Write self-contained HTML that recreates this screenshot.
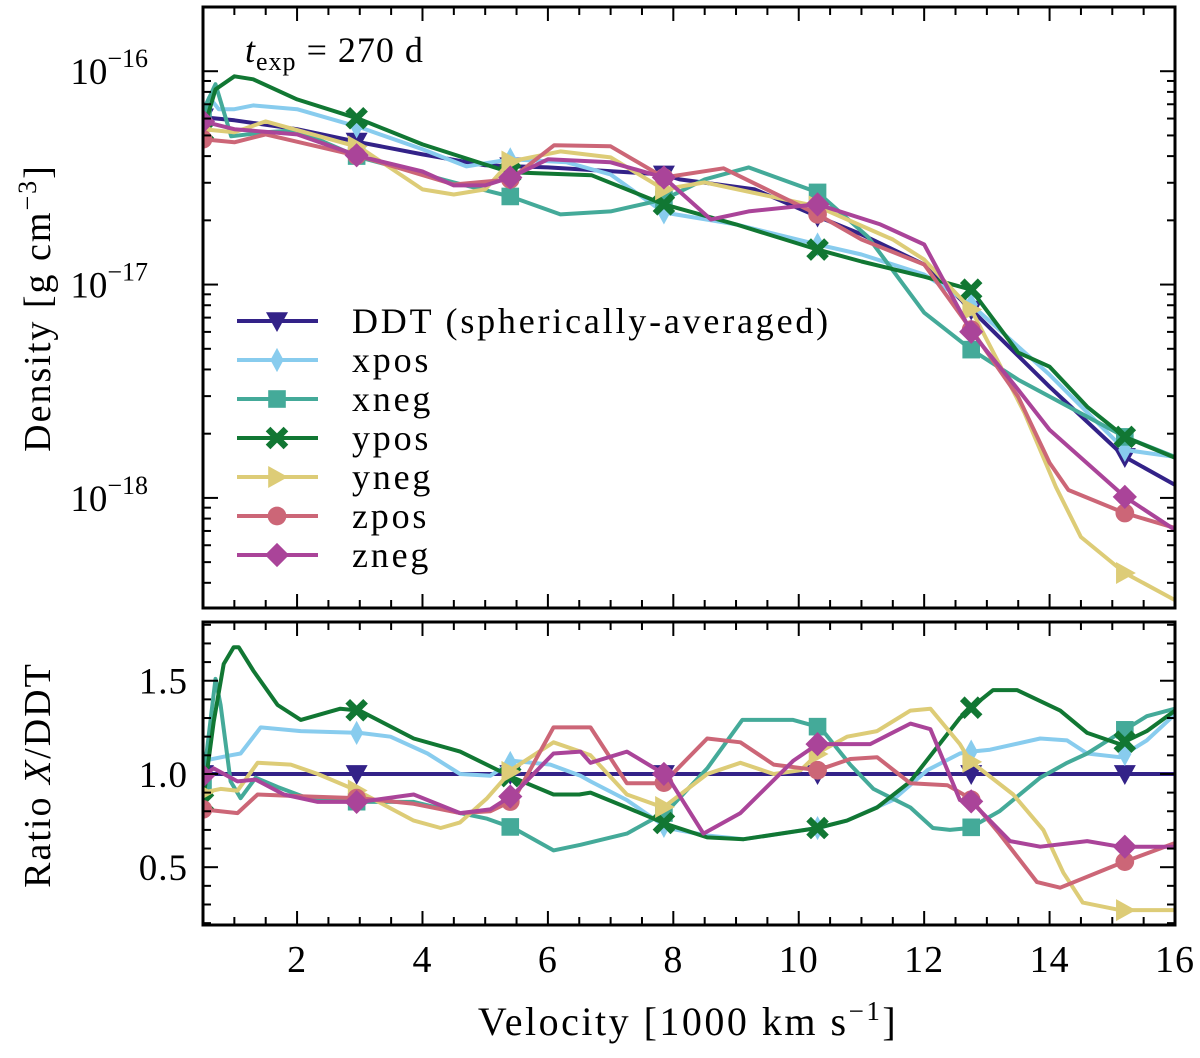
<!DOCTYPE html>
<html><head><meta charset="utf-8">
<style>
html,body{margin:0;padding:0;background:#fff;}
svg{display:block;font-family:"Liberation Serif",serif;}
</style></head>
<body>
<svg id="chart" width="1200" height="1058" viewBox="0 0 1200 1058" xmlns="http://www.w3.org/2000/svg">
<defs>
<clipPath id="clipTop"><rect x="203" y="7" width="972" height="601"/></clipPath>
<clipPath id="clipBot"><rect x="203" y="622" width="972" height="303"/></clipPath>
</defs>
<g id="topSeries" clip-path="url(#clipTop)"></g>
<g id="botSeries" clip-path="url(#clipBot)"></g>
<g id="axes"></g>
<text x="245" y="62" font-size="36" letter-spacing="1"><tspan font-style="italic">t</tspan><tspan font-size="26" dy="8">exp</tspan><tspan dy="-8"> = 270 d</tspan></text>
<text transform="translate(50,308) rotate(-90)" text-anchor="middle" font-size="38" letter-spacing="2">Density [g cm<tspan font-size="26" dy="-14">−3</tspan><tspan dy="14">]</tspan></text>
<text transform="translate(50,775) rotate(-90)" text-anchor="middle" font-size="38" letter-spacing="2">Ratio <tspan font-style="italic">X</tspan>/DDT</text>
<text x="688" y="1035" text-anchor="middle" font-size="40" letter-spacing="2.5">Velocity [1000 km s<tspan font-size="27" dy="-15">−1</tspan><tspan dy="15">]</tspan></text>
<g id="legend"></g>
</svg>
<script>
const names = ["DDT (spherically-averaged)","xpos","xneg","ypos","yneg","zpos","zneg"];
const colors = ["#332288","#88CCEE","#44AA99","#117733","#DDCC77","#CC6677","#AA4499"];
const markerVel = [0.5,2.95,5.4,7.85,10.3,12.75,15.2];
const xTicks = [2,4,6,8,10,12,14,16];
const ratioTicks = [0.5,1.0,1.5];
const densityDecades = [-16,-17,-18];

// Top panel: velocity (1000 km/s) and log10 density (g/cm^3)
const ddtV = [0.5,1,2,3,4,5,6,7.85,8.1,9.3,10.3,11,12,12.75,14,15.2,16];
const ddtL = [-16.216,-16.230,-16.272,-16.333,-16.390,-16.441,-16.451,-16.484,-16.507,-16.554,-16.681,-16.765,-16.906,-17.117,-17.479,-17.808,-17.939];
const xposV = [0.5,0.6,0.75,1,1.3,2,3,4,4.7,5.4,6.3,7,7.85,9,10.3,11,12,12.75,14,15.2,16];
const xposL = [-16.188,-16.122,-16.178,-16.178,-16.160,-16.178,-16.263,-16.366,-16.446,-16.413,-16.427,-16.484,-16.662,-16.718,-16.812,-16.859,-16.953,-17.094,-17.423,-17.775,-17.808];
const xnegV = [0.5,0.7,0.95,1.5,2,3,4.5,5.4,6.2,7,7.85,8.5,9.2,10.3,11.1,12,12.75,13.5,15.2,16];
const xnegL = [-16.188,-16.061,-16.305,-16.286,-16.277,-16.404,-16.521,-16.587,-16.671,-16.657,-16.601,-16.507,-16.451,-16.568,-16.775,-17.132,-17.305,-17.446,-17.714,-17.808];
const yposV = [0.5,0.7,1,1.3,2,3,4,5,5.4,6.7,7.85,9,10.3,11,12,12.75,13.5,14,14.6,15.2,16];
const yposL = [-16.282,-16.085,-16.024,-16.038,-16.132,-16.225,-16.343,-16.437,-16.474,-16.488,-16.624,-16.718,-16.836,-16.892,-16.963,-17.024,-17.319,-17.385,-17.573,-17.714,-17.812];
const ynegV = [0.5,1,1.5,3,4,4.5,5,5.4,6.2,7,7.85,8.5,10.3,11.5,12,12.75,13.6,14.1,14.5,15.2,16];
const ynegL = [-16.272,-16.286,-16.235,-16.357,-16.554,-16.578,-16.554,-16.423,-16.376,-16.404,-16.554,-16.521,-16.634,-16.789,-16.883,-17.117,-17.601,-17.949,-18.183,-18.352,-18.479];
const zposV = [0.5,1,1.5,3,4.5,5.4,6.1,7,7.85,8.8,10.3,11,12,12.75,13.5,14,14.3,15.2,16];
const zposL = [-16.319,-16.333,-16.296,-16.399,-16.531,-16.507,-16.347,-16.352,-16.498,-16.455,-16.671,-16.789,-16.906,-17.211,-17.526,-17.836,-17.963,-18.071,-18.141];
const znegV = [0.5,1,2,3,4,4.5,5,5.4,6,7,7.85,8.6,9.2,10.3,11.3,12,12.75,13.5,14,15.2,16];
const znegL = [-16.235,-16.272,-16.296,-16.399,-16.470,-16.535,-16.535,-16.498,-16.413,-16.427,-16.498,-16.695,-16.657,-16.624,-16.718,-16.812,-17.221,-17.493,-17.681,-17.995,-18.150];

// Bottom panel: ratio X/DDT
const rDdtV = [0.5,16];
const rDdtR = [1,1];
const rXposV = [0.5,0.94,1.1,1.42,2.06,3,3.49,4.08,4.6,5.08,5.45,6.04,6.52,6.68,7.26,7.9,8.54,9.12,10.3,10.77,11.5,12.05,12.57,12.75,13.05,13.85,14.28,14.6,15.12,15.55,16];
const rXposR = [1.07,1.10,1.11,1.25,1.23,1.22,1.20,1.11,1.0,0.99,1.07,1.05,0.99,0.96,0.86,0.71,0.67,0.65,0.71,0.75,0.86,1.02,1.11,1.12,1.13,1.19,1.18,1.11,1.09,1.18,1.32];
const rXnegV = [0.5,0.7,0.78,0.94,1.1,1.34,1.69,2.17,3,3.86,4.6,5.03,5.45,6.09,6.52,7.26,7.9,8.54,9.1,9.91,10.34,10.82,11.19,11.78,12.14,12.41,12.73,13.2,13.85,14.28,14.6,15.12,15.55,16];
const rXnegR = [0.95,1.51,1.37,0.96,0.87,0.98,0.93,0.87,0.85,0.85,0.79,0.76,0.71,0.59,0.62,0.68,0.80,1.03,1.29,1.29,1.25,1.05,0.92,0.82,0.71,0.70,0.71,0.80,0.98,1.06,1.11,1.22,1.31,1.35];
const rYposV = [0.5,0.67,0.83,0.99,1.07,1.31,1.69,2.06,2.69,3,3.86,4.6,5.45,6.09,6.5,6.68,7.26,7.9,8.54,9.12,10.3,10.77,11.25,11.78,12.57,12.73,13.1,13.48,14.17,14.6,15.12,15.55,16];
const rYposR = [0.85,1.28,1.59,1.68,1.68,1.55,1.37,1.29,1.35,1.34,1.19,1.12,0.98,0.89,0.89,0.90,0.82,0.73,0.66,0.65,0.71,0.75,0.82,0.96,1.30,1.35,1.45,1.45,1.34,1.22,1.16,1.23,1.34];
const rYnegV = [0.5,0.78,1.05,1.37,1.9,2.33,2.96,3.86,4.29,4.6,5.03,5.45,6.09,6.52,6.68,7.26,7.84,8.54,9.07,9.6,10.03,10.34,10.77,11.25,11.78,12.1,12.57,12.73,13.42,13.9,14.22,14.53,15.12,16];
const rYnegR = [0.90,0.92,0.91,1.06,1.05,1.0,0.91,0.75,0.71,0.74,0.87,1.03,1.17,1.12,1.10,0.89,0.82,1.0,1.06,1.0,1.02,1.12,1.20,1.23,1.34,1.35,1.16,1.07,0.89,0.70,0.47,0.31,0.27,0.27];
const rZposV = [0.5,1.05,1.37,2.06,3,3.86,4.6,5.08,5.45,6.09,6.52,6.68,7.26,7.84,8.54,9.07,9.6,10.3,10.82,11.25,11.78,12.37,12.73,13.2,13.8,14.17,15.12,16];
const rZposR = [0.81,0.79,0.89,0.88,0.87,0.84,0.79,0.80,0.86,1.25,1.25,1.25,0.95,0.95,1.19,1.17,1.05,1.02,1.08,1.09,0.95,0.94,0.87,0.68,0.42,0.39,0.52,0.63];
const rZnegV = [0.5,0.67,1.05,1.34,1.79,2.33,3,3.86,4.6,5.08,5.45,6.09,6.52,6.68,7.26,7.9,8.48,9.07,9.91,10.3,11.14,11.78,12.1,12.57,12.73,13.37,13.85,14.6,15.12,16];
const rZnegR = [0.99,1.03,0.96,0.97,0.89,0.85,0.85,0.89,0.79,0.81,0.89,1.11,1.12,1.06,1.12,0.99,0.68,0.79,1.07,1.16,1.16,1.27,1.24,0.86,0.86,0.64,0.61,0.64,0.61,0.61];

const topV = [ddtV,xposV,xnegV,yposV,ynegV,zposV,znegV];
const topL = [ddtL,xposL,xnegL,yposL,ynegL,zposL,znegL];
const botV = [rDdtV,rXposV,rXnegV,rYposV,rYnegV,rZposV,rZnegV];
const botR = [rDdtR,rXposR,rXnegR,rYposR,rYnegR,rZposR,rZnegR];
const markerTypes = ["tridown","thindiamond","square","x","triright","circle","diamond"];

const NS = "http://www.w3.org/2000/svg";
const X0=203, X1=1175, XMIN=0.5, XMAX=16;
const T0=7, T1=608, LMAX=-15.699, LMIN=-18.516;
const B0=622, B1=925, RMAX=1.815, RMIN=0.19;
function xs(v){return X0+(v-XMIN)/(XMAX-XMIN)*(X1-X0);}
function ytop(l){return T0+(LMAX-l)/(LMAX-LMIN)*(T1-T0);}
function ybot(r){return B0+(RMAX-r)/(RMAX-RMIN)*(B1-B0);}
function interp(vs,ys,v){
  if(v<=vs[0])return ys[0];
  for(let i=1;i<vs.length;i++){if(v<=vs[i]){const t=(v-vs[i-1])/(vs[i]-vs[i-1]);return ys[i-1]+t*(ys[i]-ys[i-1]);}}
  return ys[ys.length-1];
}
function mk(tag,attrs,parent){const e=document.createElementNS(NS,tag);for(const k in attrs)e.setAttribute(k,attrs[k]);parent.appendChild(e);return e;}

function marker(type,cx,cy,color,parent,s){
  let e;
  if(type==="tridown"){e=mk("polygon",{points:`${cx-s},${cy-s*0.8} ${cx+s},${cy-s*0.8} ${cx},${cy+s}`,fill:color},parent);}
  else if(type==="triright"){e=mk("polygon",{points:`${cx-s*0.8},${cy-s} ${cx-s*0.8},${cy+s} ${cx+s},${cy}`,fill:color},parent);}
  else if(type==="square"){e=mk("rect",{x:cx-s*0.8,y:cy-s*0.8,width:s*1.6,height:s*1.6,fill:color},parent);}
  else if(type==="circle"){e=mk("circle",{cx:cx,cy:cy,r:s*0.85,fill:color},parent);}
  else if(type==="diamond"){e=mk("polygon",{points:`${cx},${cy-s*1.1} ${cx+s*1.1},${cy} ${cx},${cy+s*1.1} ${cx-s*1.1},${cy}`,fill:color},parent);}
  else if(type==="thindiamond"){e=mk("polygon",{points:`${cx},${cy-s*1.1} ${cx+s*0.6},${cy} ${cx},${cy+s*1.1} ${cx-s*0.6},${cy}`,fill:color},parent);}
  else if(type==="x"){const d=s*0.6;e=mk("path",{d:`M${cx-d},${cy-d}L${cx+d},${cy+d}M${cx-d},${cy+d}L${cx+d},${cy-d}`,stroke:color,"stroke-width":s*0.6,"stroke-linecap":"square",fill:"none"},parent);}
  return e;
}

const topG=document.getElementById("topSeries"), botG=document.getElementById("botSeries");
for(let i=0;i<names.length;i++){
  const key=names[i].split(" ")[0].toLowerCase();
  const gT=mk("g",{},topG);
  
  
  const pT=mk("polyline",{points:topV[i].map((v,j)=>xs(v).toFixed(1)+","+ytop(topL[i][j]).toFixed(1)).join(" "),fill:"none",stroke:colors[i],"stroke-width":4,"stroke-linejoin":"round"},gT);
  
  
  const gB=mk("g",{},botG);
  
  
  const pB=mk("polyline",{points:botV[i].map((v,j)=>xs(v).toFixed(1)+","+ybot(botR[i][j]).toFixed(1)).join(" "),fill:"none",stroke:colors[i],"stroke-width":4,"stroke-linejoin":"round"},gB);
  
  
  for(const mv of markerVel){
    const m1=marker(markerTypes[i],xs(mv),ytop(interp(topV[i],topL[i],mv)),colors[i],gT,11);
    
    
    const m2=marker(markerTypes[i],xs(mv),ybot(interp(botV[i],botR[i],mv)),colors[i],gB,11);
    
    
  }
}

// Axes
const ax=document.getElementById("axes");
function line(x1,y1,x2,y2,w,name){const e=mk("line",{x1:x1,y1:y1,x2:x2,y2:y2,stroke:"#000","stroke-width":w},ax);return e;}
const f1=mk("rect",{x:X0,y:T0,width:X1-X0,height:T1-T0,fill:"none",stroke:"#000","stroke-width":3},ax);


const f2=mk("rect",{x:X0,y:B0,width:X1-X0,height:B1-B0,fill:"none",stroke:"#000","stroke-width":3},ax);


for(let v=0.5;v<=16.001;v+=0.5){
  const x=xs(v), major=Math.abs(v-Math.round(v/2)*2)<1e-6;
  const L=major?14:8;
  line(x,T0,x,T0+L,2,'x-tick');line(x,T1,x,T1-L,2,'x-tick');
  line(x,B0,x,B0+L,2,'x-tick');line(x,B1,x,B1-L,2,'x-tick');
}
for(const t of xTicks){
  const e=mk("text",{x:xs(t),y:972,"text-anchor":"middle","font-size":38,"letter-spacing":1},ax);e.textContent=t;
  
  
}
for(const d of densityDecades){
  for(let m=1;m<=9;m++){
    const l=d+Math.log10(m); if(l>LMAX||l<LMIN) continue;
    const y=ytop(l), L=m===1?15:8;
    line(X0,y,X0+L,y,2,'y-tick');line(X1,y,X1-L,y,2,'y-tick');
  }
  const e=mk("text",{x:148,y:ytop(d)+13,"text-anchor":"end","font-size":37},ax);
  e.innerHTML=`10<tspan font-size="26" dy="-17">−${-d}</tspan>`;
  
  
}
for(let d=-19;d<=-16;d++){for(let m=1;m<=9;m++){const l=d+Math.log10(m);if(l<=LMAX&&l>=LMIN&&d<-18){const y=ytop(l);line(X0,y,X0+8,y,2,'y-tick');line(X1,y,X1-8,y,2,'y-tick');}}}
for(let k=2;k<=18;k++){
  const r=k/10, y=ybot(r), major=(k%5===0);
  const L=major?15:8;
  line(X0,y,X0+L,y,2,'y-tick');line(X1,y,X1-L,y,2,'y-tick');
}
for(const t of ratioTicks){
  const e=mk("text",{x:188,y:ybot(t)+13,"text-anchor":"end","font-size":37,"letter-spacing":1},ax);e.textContent=t.toFixed(1);
  
  
}

// Legend
const lg=document.getElementById("legend");
for(let i=0;i<names.length;i++){
  const y=321+i*39;
  const g=mk("g",{},lg);
  
  
  mk("line",{x1:237,y1:y,x2:318,y2:y,stroke:colors[i],"stroke-width":4},g);
  marker(markerTypes[i],277,y,colors[i],g,11);
  const t=mk("text",{x:352,y:y+12,"font-size":36,"letter-spacing":2.8},g);t.textContent=names[i];
}
</script>
</body></html>
